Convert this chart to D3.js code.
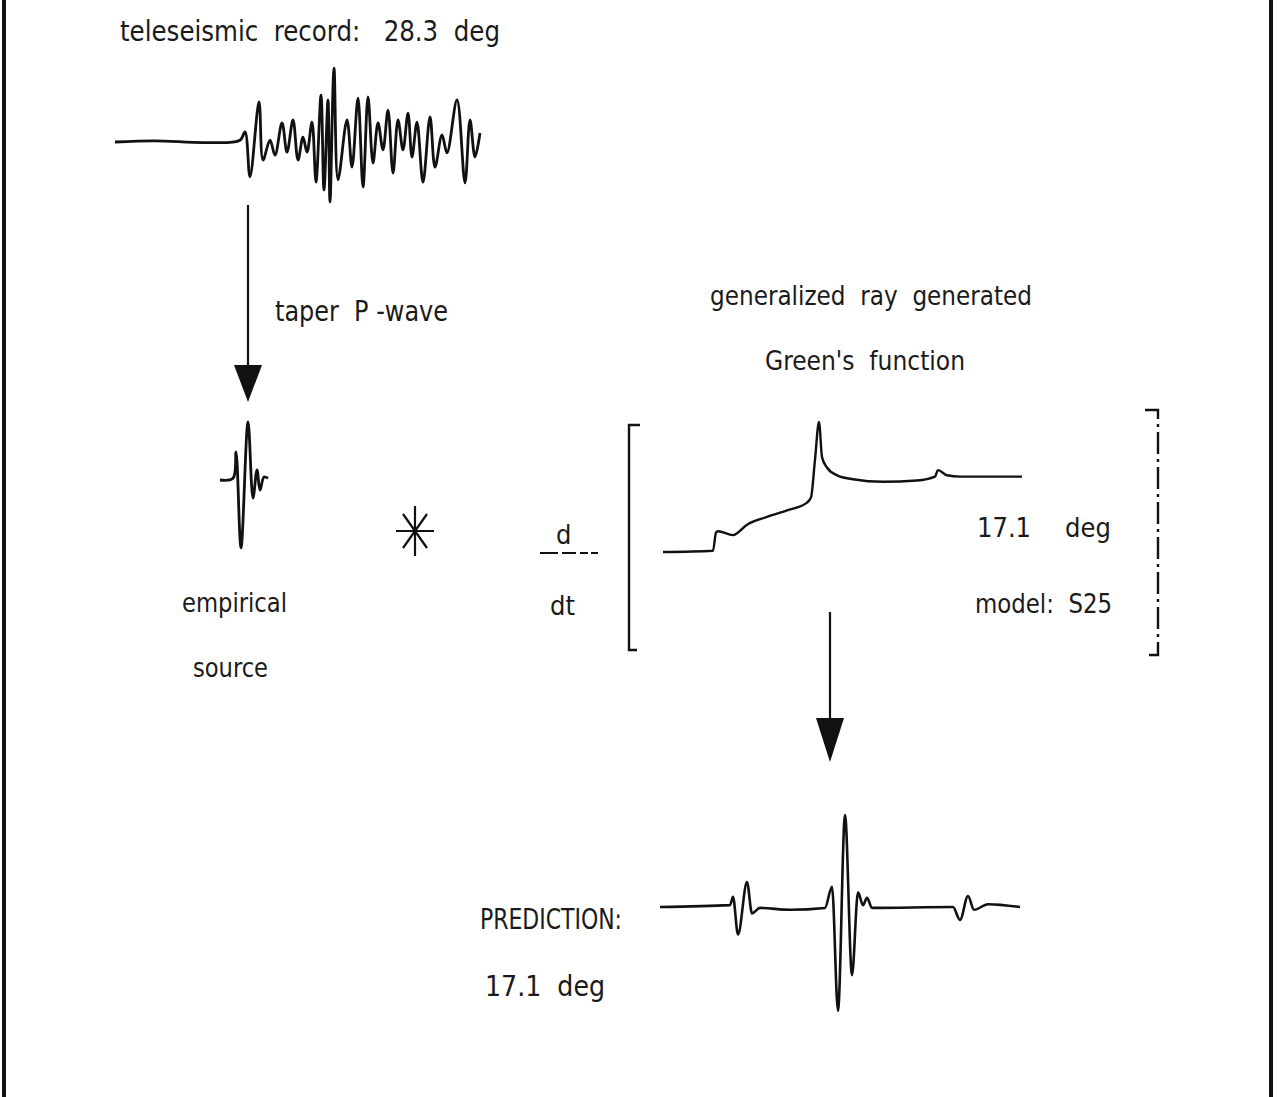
<!DOCTYPE html>
<html>
<head>
<meta charset="utf-8">
<script src="https://cdn.jsdelivr.net/npm/d3@7"></script>
<style>
    body { margin: 0; background: #fff; }
    svg { display: block; }
    text { font-family: "Liberation Sans Narrow", "DejaVu Sans Condensed", sans-serif; fill: #1a1a1a; }
</style>
</head>
<body>
<svg id="fig" width="1280" height="1097"></svg>
<script>
'use strict';

// teleseismic record, 28.3 deg  (time in s, amplitude normalised)
var teleTime = [0, 8, 18, 25, 26, 27, 28.8, 29.6, 31, 32, 33.4, 34.4, 35.6, 36.6, 37.6, 38.4, 39.4, 40.2,
    41.2, 41.8, 42.6, 43, 43.8, 44.6, 46.4, 47.4, 48.6, 49.6, 50.6, 51.6, 52.6, 53.6, 54.6, 55.6, 56.6,
    57.6, 58.6, 59.4, 60.4, 61.6, 63, 64, 65.4, 66.4, 68.4, 70, 71, 72, 73];
var teleAmp = [0, 0.02, -0.01, 0.03, 0.17, -0.58, 0.67, -0.3, 0.03, -0.22, 0.32, -0.17, 0.37, -0.3, 0.08, -0.17, 0.33, -0.67,
    0.78, -0.8, 0.7, -1.0, 1.23, -0.63, 0.37, -0.42, 0.73, -0.75, 0.75, -0.35, 0.32, -0.13, 0.53, -0.52, 0.37,
    -0.13, 0.48, -0.25, 0.33, -0.67, 0.42, -0.42, 0.12, -0.18, 0.7, -0.68, 0.37, -0.25, 0.15];

// empirical source (tapered P-wave)
var sourceTime = [0, 3.25, 4, 5.25, 7, 8.25, 9.25, 10, 11, 12];
var sourceAmp = [0, 0.03, 0.47, -1.13, 0.97, -0.3, 0.17, -0.17, 0.05, 0.03];

// generalized ray Green's function, 17.1 deg, model S25
var greenTime = [0, 5.0, 5.3, 5.5, 7.0, 8.4, 10.4, 12.4, 14.4, 14.8, 15.2, 15.6, 15.9, 16.4, 17.4, 19.0,
    22.0, 25.4, 27.2, 27.5, 28.4, 29.7, 35.9];
var greenAmp = [0, 0.01, 0.15, 0.16, 0.13, 0.21, 0.27, 0.32, 0.38, 0.42, 0.71, 1.0, 0.73, 0.65, 0.59, 0.56,
    0.54, 0.55, 0.58, 0.63, 0.59, 0.58, 0.58];

// prediction, 17.1 deg
var predTime = [0, 7, 7.3, 7.8, 8.7, 9.2, 10, 13, 16.5, 17.2, 17.8, 18.5, 19.2, 19.8, 20.3, 20.7, 21.2,
    29.3, 30, 30.8, 31.4, 32.8, 36];
var predAmp = [0, 0.02, 0.11, -0.3, 0.27, -0.07, -0.01, -0.03, -0.01, 0.22, -1.13, 1.0, -0.74, 0.16, 0.02, 0.1, -0.01,
    0, -0.14, 0.12, -0.03, 0.03, 0];

var svg = d3.select("#fig");

function drawTrace(times, amps, xRange, yZero, yOne, curve, width) {
    var x = d3.scaleLinear().domain([d3.min(times), d3.max(times)]).range(xRange);
    var y = d3.scaleLinear().domain([0, 1]).range([yZero, yOne]);
    var line = d3.line()
        .x(function (d) { return x(d[0]); })
        .y(function (d) { return y(d[1]); })
        .curve(curve || d3.curveMonotoneX);

    svg.append("path")
        .datum(d3.zip(times, amps))
        .attr("d", line)
        .attr("fill", "none")
        .attr("stroke", "#111")
        .attr("stroke-width", width || 2.4)
        .attr("stroke-linejoin", "round");
}

function drawArrow(xPos, y0, yHead, yTip, halfWidth) {
    svg.append("line")
        .attr("x1", xPos).attr("x2", xPos)
        .attr("y1", y0).attr("y2", yHead)
        .attr("stroke", "#111")
        .attr("stroke-width", 2.2);
    svg.append("path")
        .attr("d", "M" + (xPos - halfWidth) + "," + yHead + "L" + (xPos + halfWidth) + "," + yHead + "L" + xPos + "," + yTip + "Z")
        .attr("fill", "#111");
}

function label(str, x, y, size, width) {
    var t = svg.append("text")
        .attr("x", x)
        .attr("y", y)
        .attr("font-size", size)
        .attr("xml:space", "preserve")
        .text(str);
    if (width) {
        t.attr("textLength", width).attr("lengthAdjust", "spacingAndGlyphs");
    }
    return t;
}

// page frame (left and right rules only)
svg.append("line").attr("x1", 4).attr("x2", 4).attr("y1", 0).attr("y2", 1097)
    .attr("stroke", "#111").attr("stroke-width", 4);
svg.append("line").attr("x1", 1271).attr("x2", 1271).attr("y1", 0).attr("y2", 1097)
    .attr("stroke", "#111").attr("stroke-width", 4);

// teleseismic record
label("teleseismic  record:   28.3  deg", 120, 41, 29, 380);
drawTrace(teleTime, teleAmp, [115, 480], 142, 82, d3.curveCatmullRom.alpha(0.5), 2.8);

drawArrow(248, 205, 365, 402, 14);
label("taper  P -wave", 275, 321, 28, 173);

// empirical source
drawTrace(sourceTime, sourceAmp, [220, 268], 480, 420, d3.curveCatmullRom.alpha(0.5), 2.8);
label("empirical", 182, 612, 27, 105);
label("source", 193, 677, 27, 75);

// convolution star
var star = svg.append("g").attr("transform", "translate(415,531)");
[[0, -25, 0, 25], [-19, 0, 19, 0], [-12, -17, 12, 17], [12, -17, -12, 17]].forEach(function (s) {
    star.append("line")
        .attr("x1", s[0]).attr("y1", s[1]).attr("x2", s[2]).attr("y2", s[3])
        .attr("stroke", "#111").attr("stroke-width", 2.2);
});

// d/dt
label("d", 556, 544, 27);
svg.append("line").attr("x1", 540).attr("x2", 598).attr("y1", 553).attr("y2", 553)
    .attr("stroke", "#111").attr("stroke-width", 2).attr("stroke-dasharray", "18,4,14,4,8,3");
label("dt", 550, 615, 27);

// brackets
svg.append("path")
    .attr("d", "M640,425L629,425L629,650L637,650")
    .attr("fill", "none").attr("stroke", "#111").attr("stroke-width", 2.4);
svg.append("path")
    .attr("d", "M1145,410L1158,410L1158,655L1145,655")
    .attr("fill", "none").attr("stroke", "#111").attr("stroke-width", 2.4)
    .attr("stroke-dasharray", "22,5,3,5");

// Green's function
label("generalized  ray  generated", 710, 305, 27, 322);
label("Green's  function", 765, 370, 27, 200);
drawTrace(greenTime, greenAmp, [663, 1022], 552, 422);
label("17.1", 977, 537, 27);
label("deg", 1065, 537, 27);
label("model:  S25", 975, 613, 27, 137);

drawArrow(830, 612, 718, 762, 14);

// prediction
label("PREDICTION:", 480, 929, 28, 142);
label("17.1  deg", 485, 996, 28, 120);
drawTrace(predTime, predAmp, [660, 1020], 907, 815, d3.curveMonotoneX, 2.6);
</script>
</body>
</html>
